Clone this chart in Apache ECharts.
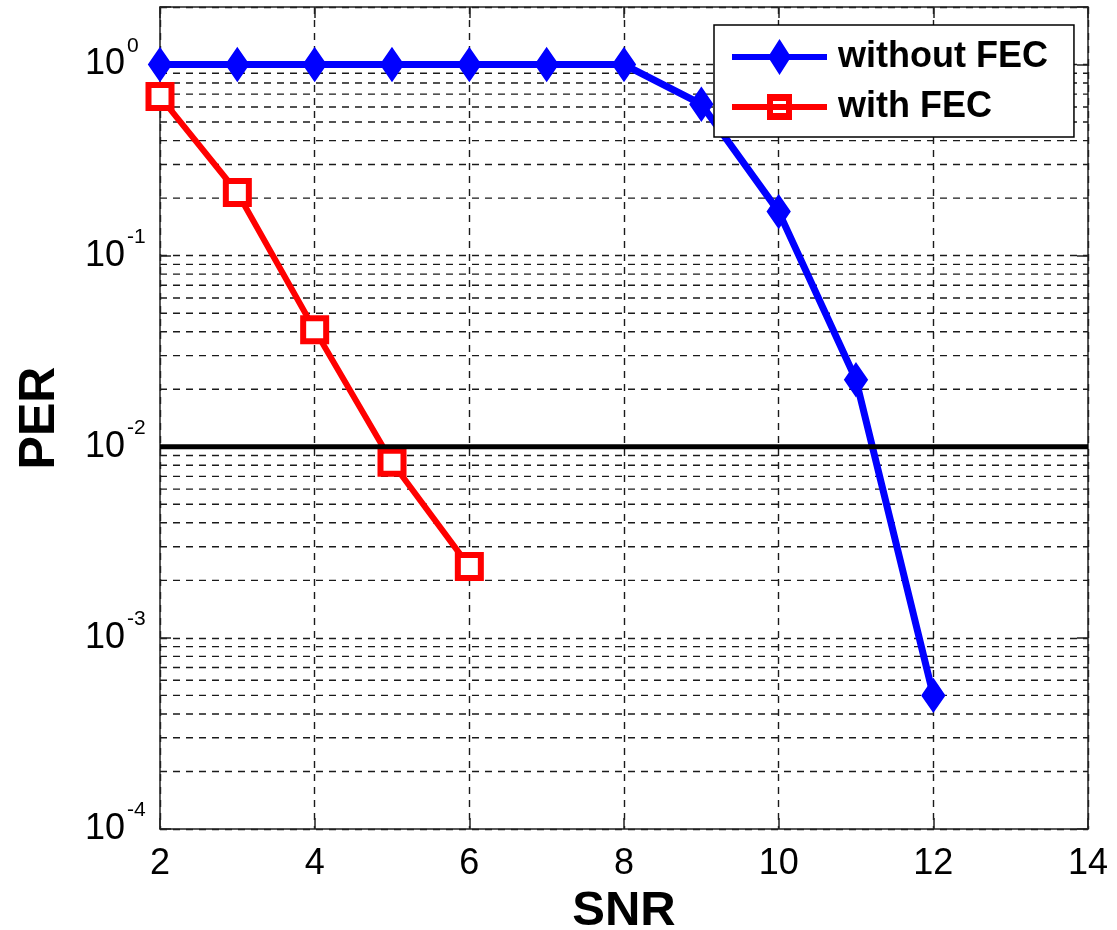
<!DOCTYPE html>
<html>
<head>
<meta charset="utf-8">
<script src="https://cdn.jsdelivr.net/npm/echarts@6/dist/echarts.min.js"></script>
<style>
  html, body { margin: 0; padding: 0; background: #fff; }
  #chart { width: 1117px; height: 930px; }
</style>
</head>
<body>
<div id="chart"></div>
<script>
// ---- data ----
const snrWithout = [2, 3, 4, 5, 6, 7, 8, 9, 10, 11, 12];
const perWithout = [1, 1, 1, 1, 1, 1, 1, 0.62, 0.17, 0.0224, 0.0005];
const snrWith = [2, 3, 4, 5, 6];
const perWith = [0.68, 0.214, 0.041, 0.0083, 0.00236];
const seriesNames = ['without FEC', 'with FEC'];
const xTicks = [2, 4, 6, 8, 10, 12, 14];
const yDecades = [1e-4, 1e-3, 1e-2, 1e-1, 1];
const minorMultipliers = [2, 3, 4, 5, 6, 7, 8, 9];
const yMin = 1e-4;
const yMax = 2;
const thresholdPER = 0.01;
const xLabel = 'SNR';
const yLabel = 'PER';

// ---- build ----
const FONT = '"Liberation Sans", Arial, Helvetica, sans-serif';
const BLUE = '#0000ff', RED = '#ff0000';
const xMin = xTicks[0], xMax = xTicks[xTicks.length - 1];
const minorValues = [];
yDecades.slice(0, -1).forEach(d => minorMultipliers.forEach(m => minorValues.push(+(m * d).toPrecision(3))));

const DASH = { color: '#1a1a1a', width: 1.4, type: [7, 6] };

const gridSeries = minorValues.map(v => ({
  type: 'line', silent: true, symbol: 'none', z: 1, animation: false,
  data: [[xMin, v], [xMax, v]],
  lineStyle: DASH
}));

const thresholdSeries = {
  type: 'line', silent: true, symbol: 'none', z: 4, animation: false,
  data: [[xMin, thresholdPER], [xMax, thresholdPER]],
  lineStyle: { color: '#000', width: 5 }
};

// legend icons: line + marker drawn as one path in a 95x36 box
const iconDiamond = 'path://M0,15L95,15L95,21L0,21Z M47.5,0L59,18L47.5,36L36,18Z';
const iconSquare = 'path://M0,0L0.01,0Z M0,15L95,15L95,21L0,21Z M35,5L60,5L60,31L35,31Z M41,12L41,24L54,24L54,12Z M95,36L94.99,36Z';

function supLabel(v) {
  const e = Math.log10(v);
  if (Math.abs(e - Math.round(e)) > 1e-6) return '';
  return '{b|10}{s|' + Math.round(e) + '}';
}

const chart = echarts.init(document.getElementById('chart'), null, { renderer: 'canvas' });
chart.setOption({
  animation: false,
  backgroundColor: '#fff',
  textStyle: { fontFamily: FONT },
  grid: { left: 160, right: 29, top: 7, bottom: 101, outerBoundsMode: 'none', containLabel: false },
  legend: {
    data: [
      { name: seriesNames[0], icon: iconDiamond, itemStyle: { color: BLUE, borderWidth: 0 } },
      { name: seriesNames[1], icon: iconSquare, itemStyle: { color: RED, borderWidth: 0 } }
    ],
    orient: 'vertical',
    left: 714, top: 25,
    backgroundColor: '#fff',
    borderColor: '#000', borderWidth: 1.5, borderRadius: 0,
    padding: [14, 26, 12, 18],
    itemWidth: 95, itemHeight: 36, itemGap: 14,
    textStyle: { fontSize: 36, fontWeight: 'bold', color: '#000', fontFamily: FONT, padding: [0, 0, 0, 6] },
    z: 10
  },
  xAxis: [{
    type: 'value', min: xMin, max: xMax, interval: 2,
    name: xLabel, nameLocation: 'middle', nameGap: 58,
    nameTextStyle: { fontSize: 49, fontWeight: 'bold', color: '#000', fontFamily: FONT },
    axisLine: { lineStyle: { color: '#222', width: 1.5 } },
    axisTick: { inside: true, length: 11, lineStyle: { color: '#222', width: 1.5 } },
    axisLabel: { fontSize: 36, color: '#000', margin: 17, fontFamily: FONT },
    splitLine: { show: true, lineStyle: DASH }
  }, {
    type: 'value', min: xMin, max: xMax, interval: 2, position: 'top',
    axisLine: { lineStyle: { color: '#222', width: 1.5 } },
    axisTick: { inside: true, length: 11, lineStyle: { color: '#222', width: 1.5 } },
    axisLabel: { show: false }, splitLine: { show: false }
  }],
  yAxis: [{
    type: 'log', logBase: 10, min: yMin, max: yMax,
    name: yLabel, nameLocation: 'middle', nameGap: 95,
    nameTextStyle: { fontSize: 50, fontWeight: 'bold', color: '#000', fontFamily: FONT },
    axisLine: { lineStyle: { color: '#222', width: 1.5 } },
    axisTick: { inside: true, length: 11, lineStyle: { color: '#222', width: 1.5 } },
    axisLabel: {
      margin: 75, align: 'left', color: '#000', fontFamily: FONT,
      formatter: supLabel,
      rich: {
        b: { fontSize: 36, lineHeight: 58, verticalAlign: 'middle', color: '#000', fontFamily: FONT },
        s: { fontSize: 21, lineHeight: 22, verticalAlign: 'top', color: '#000', fontFamily: FONT, padding: [0, 0, 0, 2] }
      }
    },
    splitLine: { show: true, lineStyle: DASH }
  }, {
    type: 'log', logBase: 10, min: yMin, max: yMax, position: 'right',
    axisLine: { lineStyle: { color: '#222', width: 1.5 } },
    axisTick: { inside: true, length: 11, lineStyle: { color: '#222', width: 1.5 } },
    axisLabel: { show: false }, splitLine: { show: false }
  }],
  series: [
    ...gridSeries,
    thresholdSeries,
    {
      name: seriesNames[0], type: 'line', z: 3,
      data: snrWithout.map((x, i) => [x, perWithout[i]]),
      symbol: 'diamond', symbolSize: [22, 32],
      color: BLUE,
      lineStyle: { color: BLUE, width: 7 },
      itemStyle: { color: BLUE, borderColor: BLUE, borderWidth: 2 }
    },
    {
      name: seriesNames[1], type: 'line', z: 3,
      data: snrWith.map((x, i) => [x, perWith[i]]),
      symbol: 'rect', symbolSize: 23,
      color: RED,
      lineStyle: { color: RED, width: 6 },
      itemStyle: { color: '#fff', borderColor: RED, borderWidth: 6 }
    }
  ]
});
</script>
</body>
</html>
